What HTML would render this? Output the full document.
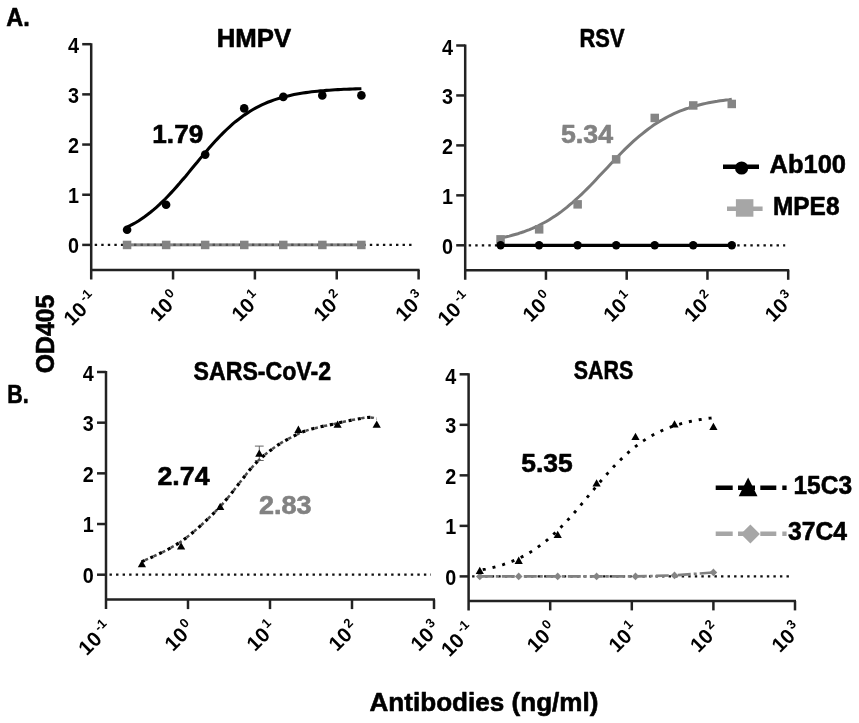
<!DOCTYPE html>
<html><head><meta charset="utf-8"><title>Figure</title>
<style>
html,body{margin:0;padding:0;background:#fff;}
body{width:859px;height:723px;overflow:hidden;font-family:"Liberation Sans",sans-serif;}
svg{display:block;filter:blur(0.55px);}
</style></head><body>
<svg width="859" height="723" viewBox="0 0 859 723" font-family="'Liberation Sans', sans-serif">
<rect width="859" height="723" fill="#fff"/>
<path d="M91.2,43.2 V279.5 M90.2,270.0 H419.6" fill="none" stroke="#222" stroke-width="2.5"/>
<path d="M82.2,244.9 H91.2" stroke="#222" stroke-width="2.5"/>
<text transform="translate(78.9,253.1) scale(0.88,1)" x="0" y="0" font-size="22.5" font-weight="bold" text-anchor="end" fill="#000">0</text>
<path d="M82.2,194.72500000000002 H91.2" stroke="#222" stroke-width="2.5"/>
<text transform="translate(78.9,202.9) scale(0.88,1)" x="0" y="0" font-size="22.5" font-weight="bold" text-anchor="end" fill="#000">1</text>
<path d="M82.2,144.55 H91.2" stroke="#222" stroke-width="2.5"/>
<text transform="translate(78.9,152.8) scale(0.88,1)" x="0" y="0" font-size="22.5" font-weight="bold" text-anchor="end" fill="#000">2</text>
<path d="M82.2,94.37500000000003 H91.2" stroke="#222" stroke-width="2.5"/>
<text transform="translate(78.9,102.6) scale(0.88,1)" x="0" y="0" font-size="22.5" font-weight="bold" text-anchor="end" fill="#000">3</text>
<path d="M82.2,44.20000000000002 H91.2" stroke="#222" stroke-width="2.5"/>
<text transform="translate(78.9,53.4) scale(0.88,1)" x="0" y="0" font-size="22.5" font-weight="bold" text-anchor="end" fill="#000">4</text>
<g transform="translate(87.2,293.3) rotate(-45)" font-weight="bold" text-anchor="end" fill="#000"><text x="-11.6" y="13.0" font-size="20.5">10</text><text x="3.0" y="4.6" font-size="13">-1</text></g>
<path d="M173.05,270.0 V279.5" stroke="#222" stroke-width="2.5"/>
<g transform="translate(169.1,293.3) rotate(-45)" font-weight="bold" text-anchor="end" fill="#000"><text x="-5.6" y="13.0" font-size="20.5">10</text><text x="3.6" y="4.6" font-size="13">0</text></g>
<path d="M254.90000000000003,270.0 V279.5" stroke="#222" stroke-width="2.5"/>
<g transform="translate(250.9,293.3) rotate(-45)" font-weight="bold" text-anchor="end" fill="#000"><text x="-5.6" y="13.0" font-size="20.5">10</text><text x="3.6" y="4.6" font-size="13">1</text></g>
<path d="M336.75,270.0 V279.5" stroke="#222" stroke-width="2.5"/>
<g transform="translate(332.8,293.3) rotate(-45)" font-weight="bold" text-anchor="end" fill="#000"><text x="-5.6" y="13.0" font-size="20.5">10</text><text x="3.6" y="4.6" font-size="13">2</text></g>
<path d="M418.6,270.0 V279.5" stroke="#222" stroke-width="2.5"/>
<g transform="translate(414.6,293.3) rotate(-45)" font-weight="bold" text-anchor="end" fill="#000"><text x="-5.6" y="13.0" font-size="20.5">10</text><text x="3.6" y="4.6" font-size="13">3</text></g>
<path d="M127.1,244.9 H361.4" stroke="#858585" stroke-width="2.6"/>
<path d="M94.7,244.9 H415.6" stroke="#111" stroke-width="2.3" stroke-dasharray="2.4,4.15" fill="none"/>
<path d="M127.1,244.9 H361.4" stroke="#858585" stroke-width="2.6" opacity="0.55"/>
<rect x="122.8" y="240.7" width="8.5" height="8.5" fill="#838383"/>
<rect x="161.9" y="240.7" width="8.5" height="8.5" fill="#838383"/>
<rect x="200.9" y="240.7" width="8.5" height="8.5" fill="#838383"/>
<rect x="240.0" y="240.7" width="8.5" height="8.5" fill="#838383"/>
<rect x="279.0" y="240.7" width="8.5" height="8.5" fill="#838383"/>
<rect x="318.1" y="240.7" width="8.5" height="8.5" fill="#838383"/>
<rect x="357.1" y="240.7" width="8.5" height="8.5" fill="#838383"/>
<path d="M127.1,227.2 L130.0,225.7 L132.9,224.1 L135.9,222.5 L138.8,220.7 L141.7,218.7 L144.6,216.7 L147.6,214.5 L150.5,212.3 L153.4,209.9 L156.4,207.3 L159.3,204.7 L162.2,201.9 L165.2,199.0 L168.1,196.0 L171.0,192.9 L173.9,189.7 L176.9,186.4 L179.8,183.1 L182.7,179.6 L185.7,176.2 L188.6,172.6 L191.5,169.1 L194.4,165.5 L197.4,162.0 L200.3,158.4 L203.2,154.9 L206.2,151.5 L209.1,148.1 L212.0,144.8 L214.9,141.5 L217.9,138.4 L220.8,135.3 L223.7,132.4 L226.7,129.5 L229.6,126.8 L232.5,124.2 L235.4,121.7 L238.4,119.4 L241.3,117.2 L244.2,115.1 L247.2,113.1 L250.1,111.2 L253.0,109.5 L255.9,107.8 L258.9,106.3 L261.8,104.9 L264.7,103.6 L267.7,102.3 L270.6,101.2 L273.5,100.1 L276.5,99.1 L279.4,98.2 L282.3,97.4 L285.2,96.6 L288.2,95.9 L291.1,95.2 L294.0,94.6 L297.0,94.0 L299.9,93.5 L302.8,93.0 L305.7,92.6 L308.7,92.2 L311.6,91.8 L314.5,91.5 L317.5,91.2 L320.4,90.9 L323.3,90.7 L326.2,90.4 L329.2,90.2 L332.1,90.0 L335.0,89.8 L338.0,89.6 L340.9,89.5 L343.8,89.3 L346.7,89.2 L349.7,89.1 L352.6,89.0 L355.5,88.9 L358.5,88.8 L361.4,88.7" fill="none" stroke="#000" stroke-width="3.1"/>
<circle cx="127.1" cy="229.8" r="4.3" fill="#000"/>
<circle cx="166.1" cy="204.8" r="4.3" fill="#000"/>
<circle cx="205.2" cy="154.6" r="4.3" fill="#000"/>
<circle cx="244.2" cy="108.4" r="4.3" fill="#000"/>
<circle cx="283.3" cy="96.9" r="4.3" fill="#000"/>
<circle cx="322.3" cy="95.4" r="4.3" fill="#000"/>
<circle cx="361.4" cy="95.4" r="4.3" fill="#000"/>
<text x="254" y="47.2" font-size="26" font-weight="bold" text-anchor="middle" fill="#000" stroke="#000" stroke-width="0.6" stroke-linejoin="round" textLength="74.5" lengthAdjust="spacingAndGlyphs" >HMPV</text>
<text x="152.3" y="143.2" font-size="25" font-weight="bold" text-anchor="start" fill="#000" stroke="#000" stroke-width="0.6" stroke-linejoin="round" textLength="51" lengthAdjust="spacingAndGlyphs" >1.79</text>
<path d="M465.2,44.5 V279.8 M464.2,270.3 H789.2" fill="none" stroke="#222" stroke-width="2.5"/>
<path d="M456.2,245.3 H465.2" stroke="#222" stroke-width="2.5"/>
<text transform="translate(452.9,253.5) scale(0.88,1)" x="0" y="0" font-size="22.5" font-weight="bold" text-anchor="end" fill="#000">0</text>
<path d="M456.2,195.35000000000002 H465.2" stroke="#222" stroke-width="2.5"/>
<text transform="translate(452.9,203.6) scale(0.88,1)" x="0" y="0" font-size="22.5" font-weight="bold" text-anchor="end" fill="#000">1</text>
<path d="M456.2,145.4 H465.2" stroke="#222" stroke-width="2.5"/>
<text transform="translate(452.9,153.6) scale(0.88,1)" x="0" y="0" font-size="22.5" font-weight="bold" text-anchor="end" fill="#000">2</text>
<path d="M456.2,95.44999999999999 H465.2" stroke="#222" stroke-width="2.5"/>
<text transform="translate(452.9,103.6) scale(0.88,1)" x="0" y="0" font-size="22.5" font-weight="bold" text-anchor="end" fill="#000">3</text>
<path d="M456.2,45.5 H465.2" stroke="#222" stroke-width="2.5"/>
<text transform="translate(452.9,54.7) scale(0.88,1)" x="0" y="0" font-size="22.5" font-weight="bold" text-anchor="end" fill="#000">4</text>
<g transform="translate(461.2,293.6) rotate(-45)" font-weight="bold" text-anchor="end" fill="#000"><text x="-11.6" y="13.0" font-size="20.5">10</text><text x="3.0" y="4.6" font-size="13">-1</text></g>
<path d="M545.95,270.3 V279.8" stroke="#222" stroke-width="2.5"/>
<g transform="translate(542.0,293.6) rotate(-45)" font-weight="bold" text-anchor="end" fill="#000"><text x="-5.6" y="13.0" font-size="20.5">10</text><text x="3.6" y="4.6" font-size="13">0</text></g>
<path d="M626.7,270.3 V279.8" stroke="#222" stroke-width="2.5"/>
<g transform="translate(622.7,293.6) rotate(-45)" font-weight="bold" text-anchor="end" fill="#000"><text x="-5.6" y="13.0" font-size="20.5">10</text><text x="3.6" y="4.6" font-size="13">1</text></g>
<path d="M707.45,270.3 V279.8" stroke="#222" stroke-width="2.5"/>
<g transform="translate(703.5,293.6) rotate(-45)" font-weight="bold" text-anchor="end" fill="#000"><text x="-5.6" y="13.0" font-size="20.5">10</text><text x="3.6" y="4.6" font-size="13">2</text></g>
<path d="M788.2,270.3 V279.8" stroke="#222" stroke-width="2.5"/>
<g transform="translate(784.2,293.6) rotate(-45)" font-weight="bold" text-anchor="end" fill="#000"><text x="-5.6" y="13.0" font-size="20.5">10</text><text x="3.6" y="4.6" font-size="13">3</text></g>
<path d="M468.7,245.3 H785.2" stroke="#111" stroke-width="2.3" stroke-dasharray="2.4,4.15" fill="none"/>
<path d="M500.6,238.0 L503.5,237.4 L506.4,236.7 L509.3,236.1 L512.2,235.3 L515.0,234.5 L517.9,233.7 L520.8,232.7 L523.7,231.8 L526.6,230.7 L529.5,229.6 L532.4,228.4 L535.3,227.1 L538.2,225.8 L541.0,224.3 L543.9,222.8 L546.8,221.2 L549.7,219.4 L552.6,217.6 L555.5,215.7 L558.4,213.7 L561.3,211.6 L564.2,209.4 L567.1,207.1 L569.9,204.7 L572.8,202.3 L575.7,199.7 L578.6,197.0 L581.5,194.3 L584.4,191.5 L587.3,188.6 L590.2,185.7 L593.1,182.7 L595.9,179.7 L598.8,176.6 L601.7,173.5 L604.6,170.5 L607.5,167.4 L610.4,164.3 L613.3,161.2 L616.2,158.2 L619.1,155.2 L622.0,152.3 L624.8,149.4 L627.7,146.6 L630.6,143.9 L633.5,141.2 L636.4,138.6 L639.3,136.2 L642.2,133.8 L645.1,131.5 L648.0,129.2 L650.9,127.1 L653.7,125.1 L656.6,123.2 L659.5,121.4 L662.4,119.7 L665.3,118.1 L668.2,116.5 L671.1,115.1 L674.0,113.7 L676.9,112.4 L679.7,111.2 L682.6,110.1 L685.5,109.0 L688.4,108.1 L691.3,107.1 L694.2,106.3 L697.1,105.5 L700.0,104.7 L702.9,104.0 L705.8,103.4 L708.6,102.8 L711.5,102.2 L714.4,101.7 L717.3,101.3 L720.2,100.8 L723.1,100.4 L726.0,100.0 L728.9,99.7 L731.8,99.3" fill="none" stroke="#7a7a7a" stroke-width="3"/>
<rect x="496.3" y="235.1" width="8.5" height="8.5" fill="#858585"/>
<rect x="534.9" y="225.1" width="8.5" height="8.5" fill="#858585"/>
<rect x="573.4" y="200.1" width="8.5" height="8.5" fill="#858585"/>
<rect x="611.9" y="155.1" width="8.5" height="8.5" fill="#858585"/>
<rect x="650.5" y="113.7" width="8.5" height="8.5" fill="#858585"/>
<rect x="689.0" y="101.2" width="8.5" height="8.5" fill="#858585"/>
<rect x="727.5" y="99.7" width="8.5" height="8.5" fill="#858585"/>
<path d="M500.6,245.3 H731.8" stroke="#000" stroke-width="3.3"/>
<circle cx="500.6" cy="245.3" r="4.2" fill="#000"/>
<circle cx="539.1" cy="245.3" r="4.2" fill="#000"/>
<circle cx="577.6" cy="245.3" r="4.2" fill="#000"/>
<circle cx="616.2" cy="245.3" r="4.2" fill="#000"/>
<circle cx="654.7" cy="245.3" r="4.2" fill="#000"/>
<circle cx="693.2" cy="245.3" r="4.2" fill="#000"/>
<circle cx="731.8" cy="245.3" r="4.2" fill="#000"/>
<text x="602" y="46.8" font-size="26" font-weight="bold" text-anchor="middle" fill="#000" stroke="#000" stroke-width="0.6" stroke-linejoin="round" textLength="45" lengthAdjust="spacingAndGlyphs" >RSV</text>
<text x="561" y="142.6" font-size="25" font-weight="bold" text-anchor="start" fill="#828282" stroke="#828282" stroke-width="0.6" stroke-linejoin="round" textLength="52" lengthAdjust="spacingAndGlyphs" >5.34</text>
<path d="M723,166.8 H759" stroke="#000" stroke-width="4.5"/>
<circle cx="741.6" cy="168.0" r="6.6" fill="#000"/>
<text x="769.5" y="172.8" font-size="25.5" font-weight="bold" text-anchor="start" fill="#000" stroke="#000" stroke-width="0.6" stroke-linejoin="round" textLength="76.5" lengthAdjust="spacingAndGlyphs" >Ab100</text>
<path d="M727,208.8 H762.6" stroke="#a6a6a6" stroke-width="4.5"/>
<rect x="735.9" y="199.2" width="17.5" height="17.5" fill="#a6a6a6"/>
<text x="773" y="215.4" font-size="25.5" font-weight="bold" text-anchor="start" fill="#000" stroke="#000" stroke-width="0.6" stroke-linejoin="round" textLength="66.5" lengthAdjust="spacingAndGlyphs" >MPE8</text>
<path d="M106.0,371.0 V609.1 M105.0,599.6 H435.0" fill="none" stroke="#222" stroke-width="2.5"/>
<path d="M97.0,574.7 H106.0" stroke="#222" stroke-width="2.5"/>
<text transform="translate(93.7,582.9) scale(0.88,1)" x="0" y="0" font-size="22.5" font-weight="bold" text-anchor="end" fill="#000">0</text>
<path d="M97.0,524.0250000000001 H106.0" stroke="#222" stroke-width="2.5"/>
<text transform="translate(93.7,532.2) scale(0.88,1)" x="0" y="0" font-size="22.5" font-weight="bold" text-anchor="end" fill="#000">1</text>
<path d="M97.0,473.35 H106.0" stroke="#222" stroke-width="2.5"/>
<text transform="translate(93.7,481.6) scale(0.88,1)" x="0" y="0" font-size="22.5" font-weight="bold" text-anchor="end" fill="#000">2</text>
<path d="M97.0,422.675 H106.0" stroke="#222" stroke-width="2.5"/>
<text transform="translate(93.7,430.9) scale(0.88,1)" x="0" y="0" font-size="22.5" font-weight="bold" text-anchor="end" fill="#000">3</text>
<path d="M97.0,372.0 H106.0" stroke="#222" stroke-width="2.5"/>
<text transform="translate(93.7,381.2) scale(0.88,1)" x="0" y="0" font-size="22.5" font-weight="bold" text-anchor="end" fill="#000">4</text>
<g transform="translate(102.0,622.9) rotate(-45)" font-weight="bold" text-anchor="end" fill="#000"><text x="-11.6" y="13.0" font-size="20.5">10</text><text x="3.0" y="4.6" font-size="13">-1</text></g>
<path d="M188.0,599.6 V609.1" stroke="#222" stroke-width="2.5"/>
<g transform="translate(184.0,622.9) rotate(-45)" font-weight="bold" text-anchor="end" fill="#000"><text x="-5.6" y="13.0" font-size="20.5">10</text><text x="3.6" y="4.6" font-size="13">0</text></g>
<path d="M270.0,599.6 V609.1" stroke="#222" stroke-width="2.5"/>
<g transform="translate(266.0,622.9) rotate(-45)" font-weight="bold" text-anchor="end" fill="#000"><text x="-5.6" y="13.0" font-size="20.5">10</text><text x="3.6" y="4.6" font-size="13">1</text></g>
<path d="M352.0,599.6 V609.1" stroke="#222" stroke-width="2.5"/>
<g transform="translate(348.0,622.9) rotate(-45)" font-weight="bold" text-anchor="end" fill="#000"><text x="-5.6" y="13.0" font-size="20.5">10</text><text x="3.6" y="4.6" font-size="13">2</text></g>
<path d="M434.0,599.6 V609.1" stroke="#222" stroke-width="2.5"/>
<g transform="translate(430.0,622.9) rotate(-45)" font-weight="bold" text-anchor="end" fill="#000"><text x="-5.6" y="13.0" font-size="20.5">10</text><text x="3.6" y="4.6" font-size="13">3</text></g>
<path d="M109.5,574.7 H431.0" stroke="#111" stroke-width="2.3" stroke-dasharray="2.4,4.15" fill="none"/>
<path d="M141.9,561.7 C148.5,558.4 168.0,550.7 181.1,541.5 C194.1,532.3 207.1,520.2 220.2,506.5 C233.2,492.9 246.3,471.8 259.3,459.7 C272.4,447.5 285.4,439.9 298.4,433.8 C311.5,427.7 326.2,425.9 337.6,423.2 C348.9,420.5 359.9,418.4 366.4,417.6 C373.0,416.8 375.0,418.5 376.7,418.6" fill="none" stroke="#4a4a4a" stroke-width="2.5" stroke-dasharray="3.3,6.2" stroke-dashoffset="-3.5"/>
<path d="M141.9,561.7 C148.5,558.4 168.0,550.7 181.1,541.5 C194.1,532.3 207.1,520.2 220.2,506.5 C233.2,492.9 246.3,471.8 259.3,459.7 C272.4,447.5 285.4,439.9 298.4,433.8 C311.5,427.7 326.2,425.9 337.6,423.2 C348.9,420.5 359.9,418.4 366.4,417.6 C373.0,416.8 375.0,418.5 376.7,418.6" fill="none" stroke="#000" stroke-width="3.1" stroke-dasharray="3.2,6.3"/>
<path d="M259.3,446.1 V460.5 M254.9,446.1 H263.7 M254.9,460.5 H263.7" stroke="#555" stroke-width="0.9" fill="none"/>
<path d="M141.9,559.9 L146.0,567.2 L137.8,567.2 Z" fill="#000"/>
<path d="M181.1,542.2 L185.2,549.4 L177.0,549.4 Z" fill="#000"/>
<path d="M220.2,502.7 L224.3,509.9 L216.1,509.9 Z" fill="#000"/>
<path d="M259.3,449.5 L263.4,456.7 L255.2,456.7 Z" fill="#000"/>
<path d="M298.4,425.6 L302.5,432.9 L294.3,432.9 Z" fill="#000"/>
<path d="M337.6,420.6 L341.7,427.8 L333.5,427.8 Z" fill="#000"/>
<path d="M376.7,420.6 L380.8,427.8 L372.6,427.8 Z" fill="#000"/>
<text x="262.3" y="379.6" font-size="26" font-weight="bold" text-anchor="middle" fill="#000" stroke="#000" stroke-width="0.6" stroke-linejoin="round" textLength="137.5" lengthAdjust="spacingAndGlyphs" >SARS-CoV-2</text>
<text x="157.5" y="484.6" font-size="25" font-weight="bold" text-anchor="start" fill="#000" stroke="#000" stroke-width="0.6" stroke-linejoin="round" textLength="52" lengthAdjust="spacingAndGlyphs" >2.74</text>
<text x="259" y="514" font-size="25" font-weight="bold" text-anchor="start" fill="#828282" stroke="#828282" stroke-width="0.6" stroke-linejoin="round" textLength="52.5" lengthAdjust="spacingAndGlyphs" >2.83</text>
<path d="M468.6,373.3 V610.4 M467.6,600.9 H796.0" fill="none" stroke="#222" stroke-width="2.5"/>
<path d="M459.6,576.4 H468.6" stroke="#222" stroke-width="2.5"/>
<text transform="translate(456.3,584.6) scale(0.88,1)" x="0" y="0" font-size="22.5" font-weight="bold" text-anchor="end" fill="#000">0</text>
<path d="M459.6,525.875 H468.6" stroke="#222" stroke-width="2.5"/>
<text transform="translate(456.3,534.1) scale(0.88,1)" x="0" y="0" font-size="22.5" font-weight="bold" text-anchor="end" fill="#000">1</text>
<path d="M459.6,475.35 H468.6" stroke="#222" stroke-width="2.5"/>
<text transform="translate(456.3,483.6) scale(0.88,1)" x="0" y="0" font-size="22.5" font-weight="bold" text-anchor="end" fill="#000">2</text>
<path d="M459.6,424.825 H468.6" stroke="#222" stroke-width="2.5"/>
<text transform="translate(456.3,433.0) scale(0.88,1)" x="0" y="0" font-size="22.5" font-weight="bold" text-anchor="end" fill="#000">3</text>
<path d="M459.6,374.3 H468.6" stroke="#222" stroke-width="2.5"/>
<text transform="translate(456.3,383.5) scale(0.88,1)" x="0" y="0" font-size="22.5" font-weight="bold" text-anchor="end" fill="#000">4</text>
<g transform="translate(464.6,624.2) rotate(-45)" font-weight="bold" text-anchor="end" fill="#000"><text x="-11.6" y="13.0" font-size="20.5">10</text><text x="3.0" y="4.6" font-size="13">-1</text></g>
<path d="M550.2,600.9 V610.4" stroke="#222" stroke-width="2.5"/>
<g transform="translate(546.2,624.2) rotate(-45)" font-weight="bold" text-anchor="end" fill="#000"><text x="-5.6" y="13.0" font-size="20.5">10</text><text x="3.6" y="4.6" font-size="13">0</text></g>
<path d="M631.8,600.9 V610.4" stroke="#222" stroke-width="2.5"/>
<g transform="translate(627.8,624.2) rotate(-45)" font-weight="bold" text-anchor="end" fill="#000"><text x="-5.6" y="13.0" font-size="20.5">10</text><text x="3.6" y="4.6" font-size="13">1</text></g>
<path d="M713.4,600.9 V610.4" stroke="#222" stroke-width="2.5"/>
<g transform="translate(709.4,624.2) rotate(-45)" font-weight="bold" text-anchor="end" fill="#000"><text x="-5.6" y="13.0" font-size="20.5">10</text><text x="3.6" y="4.6" font-size="13">2</text></g>
<path d="M795.0,600.9 V610.4" stroke="#222" stroke-width="2.5"/>
<g transform="translate(791.0,624.2) rotate(-45)" font-weight="bold" text-anchor="end" fill="#000"><text x="-5.6" y="13.0" font-size="20.5">10</text><text x="3.6" y="4.6" font-size="13">3</text></g>
<path d="M472.1,576.4 H792.0" stroke="#111" stroke-width="2.3" stroke-dasharray="2.4,4.15" fill="none"/>
<path d="M479.8,576.4 L518.7,576.4 L557.7,576.4 L596.6,576.4 L635.5,576.4 L674.5,575.4 L713.4,572.4" fill="none" stroke="#808080" stroke-width="2.6" stroke-dasharray="13,3,3,3"/>
<path d="M479.8,572.6 L483.6,576.4 L479.8,580.2 L476.0,576.4 Z" fill="#858585"/>
<path d="M518.7,572.6 L522.5,576.4 L518.7,580.2 L514.9,576.4 Z" fill="#858585"/>
<path d="M557.7,572.6 L561.5,576.4 L557.7,580.2 L553.9,576.4 Z" fill="#858585"/>
<path d="M596.6,572.6 L600.4,576.4 L596.6,580.2 L592.8,576.4 Z" fill="#858585"/>
<path d="M635.5,572.6 L639.3,576.4 L635.5,580.2 L631.7,576.4 Z" fill="#858585"/>
<path d="M674.5,571.6 L678.3,575.4 L674.5,579.2 L670.7,575.4 Z" fill="#858585"/>
<path d="M713.4,568.6 L717.2,572.4 L713.4,576.2 L709.6,572.4 Z" fill="#858585"/>
<path d="M479.8,570.3 L482.7,569.7 L485.6,569.2 L488.6,568.5 L491.5,567.9 L494.4,567.1 L497.3,566.3 L500.2,565.5 L503.2,564.6 L506.1,563.6 L509.0,562.5 L511.9,561.4 L514.8,560.2 L517.8,558.9 L520.7,557.5 L523.6,556.0 L526.5,554.4 L529.4,552.7 L532.4,550.9 L535.3,549.0 L538.2,546.9 L541.1,544.8 L544.0,542.5 L547.0,540.2 L549.9,537.7 L552.8,535.0 L555.7,532.3 L558.6,529.5 L561.6,526.5 L564.5,523.5 L567.4,520.4 L570.3,517.2 L573.2,513.9 L576.2,510.5 L579.1,507.1 L582.0,503.6 L584.9,500.1 L587.8,496.6 L590.8,493.1 L593.7,489.6 L596.6,486.1 L599.5,482.6 L602.4,479.2 L605.4,475.9 L608.3,472.6 L611.2,469.4 L614.1,466.2 L617.0,463.2 L620.0,460.3 L622.9,457.5 L625.8,454.8 L628.7,452.2 L631.6,449.7 L634.6,447.3 L637.5,445.1 L640.4,442.9 L643.3,440.9 L646.2,439.0 L649.2,437.2 L652.1,435.5 L655.0,433.9 L657.9,432.5 L660.8,431.1 L663.8,429.8 L666.7,428.6 L669.6,427.4 L672.5,426.4 L675.4,425.4 L678.4,424.5 L681.3,423.7 L684.2,422.9 L687.1,422.2 L690.0,421.5 L693.0,420.9 L695.9,420.3 L698.8,419.8 L701.7,419.3 L704.6,418.9 L707.6,418.4 L710.5,418.1 L713.4,417.7" fill="none" stroke="#000" stroke-width="2.9" stroke-dasharray="3,7" stroke-dashoffset="-3"/>
<path d="M479.8,566.7 L483.9,574.0 L475.7,574.0 Z" fill="#000"/>
<path d="M518.7,556.6 L522.8,563.9 L514.6,563.9 Z" fill="#000"/>
<path d="M557.7,530.8 L561.8,538.1 L553.6,538.1 Z" fill="#000"/>
<path d="M596.6,479.3 L600.7,486.6 L592.5,486.6 Z" fill="#000"/>
<path d="M635.5,432.8 L639.6,440.1 L631.4,440.1 Z" fill="#000"/>
<path d="M674.5,420.2 L678.6,427.4 L670.4,427.4 Z" fill="#000"/>
<path d="M713.4,422.7 L717.5,430.0 L709.3,430.0 Z" fill="#000"/>
<text x="603.5" y="378.6" font-size="26" font-weight="bold" text-anchor="middle" fill="#000" stroke="#000" stroke-width="0.6" stroke-linejoin="round" textLength="59.5" lengthAdjust="spacingAndGlyphs" >SARS</text>
<text x="521.3" y="471.5" font-size="25" font-weight="bold" text-anchor="start" fill="#000" stroke="#000" stroke-width="0.6" stroke-linejoin="round" textLength="51.5" lengthAdjust="spacingAndGlyphs" >5.35</text>
<path d="M715.7,487.8 H787" stroke="#000" stroke-width="4.5" stroke-dasharray="17,5.3,17,5.3,16,6,4.3,20"/>
<path d="M748.1,477.5 L757.5,496.2 L738.7,496.2 Z" fill="#000"/>
<text x="793.5" y="494.4" font-size="25.5" font-weight="bold" text-anchor="start" fill="#000" stroke="#000" stroke-width="0.6" stroke-linejoin="round" textLength="58.5" lengthAdjust="spacingAndGlyphs" >15C3</text>
<path d="M715.7,533.8 H787" stroke="#a6a6a6" stroke-width="4.5" stroke-dasharray="17,5.3,17,5.3,16,6,4.3,20"/>
<path d="M750.4,524.5 L759.9,534.0 L750.4,543.5 L740.9,534.0 Z" fill="#a6a6a6"/>
<text x="788" y="539.8" font-size="25.5" font-weight="bold" text-anchor="start" fill="#000" stroke="#000" stroke-width="0.6" stroke-linejoin="round" textLength="59" lengthAdjust="spacingAndGlyphs" >37C4</text>
<text x="6.3" y="25.6" font-size="26" font-weight="bold" text-anchor="start" fill="#000" stroke="#000" stroke-width="0.6" stroke-linejoin="round" textLength="23.5" lengthAdjust="spacingAndGlyphs" >A.</text>
<text x="7.3" y="403.1" font-size="26" font-weight="bold" text-anchor="start" fill="#000" stroke="#000" stroke-width="0.6" stroke-linejoin="round" textLength="21.5" lengthAdjust="spacingAndGlyphs" >B.</text>
<g transform="translate(54,334) rotate(-90)"><text x="0" y="0" font-size="25.5" font-weight="bold" text-anchor="middle" stroke="#000" stroke-width="0.6" textLength="78.5" lengthAdjust="spacingAndGlyphs">OD405</text></g>
<text x="484" y="710.6" font-size="26" font-weight="bold" text-anchor="middle" fill="#000" stroke="#000" stroke-width="0.6" stroke-linejoin="round" textLength="229" lengthAdjust="spacingAndGlyphs" >Antibodies (ng/ml)</text>
</svg>
</body></html>
